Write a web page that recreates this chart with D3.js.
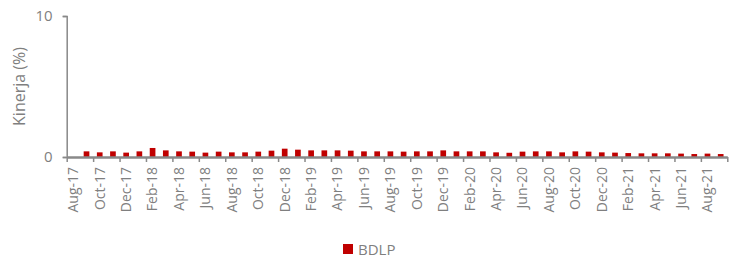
<!DOCTYPE html>
<html>
<head>
<meta charset="utf-8">
<script src="https://cdn.jsdelivr.net/npm/d3@7"></script>
<style>
  body { margin: 0; background: #fff; }
  svg { display: block; }
</style>
</head>
<body>
<div id="chart"></div>
<script>
const WIDTH = 739
const HEIGHT = 260
const LEFT = 66.7
const RIGHT = 727.3
const TOP = 16
const BOTTOM = 157
const GREY = '#898989'
const TEXT = '#7f7f7f'
const FONT = '"Open Sans", sans-serif'

// bulan
const MONTHS = [
  'Aug-17', 'Sep-17', 'Oct-17', 'Nov-17', 'Dec-17',
  'Jan-18', 'Feb-18', 'Mar-18', 'Apr-18', 'May-18', 'Jun-18', 'Jul-18', 'Aug-18', 'Sep-18', 'Oct-18', 'Nov-18', 'Dec-18',
  'Jan-19', 'Feb-19', 'Mar-19', 'Apr-19', 'May-19', 'Jun-19', 'Jul-19', 'Aug-19', 'Sep-19', 'Oct-19', 'Nov-19', 'Dec-19',
  'Jan-20', 'Feb-20', 'Mar-20', 'Apr-20', 'May-20', 'Jun-20', 'Jul-20', 'Aug-20', 'Sep-20', 'Oct-20', 'Nov-20', 'Dec-20',
  'Jan-21', 'Feb-21', 'Mar-21', 'Apr-21', 'May-21', 'Jun-21', 'Jul-21', 'Aug-21', 'Sep-21'
]
// kinerja BDLP (%)
const BDLP = [
  null, 0.40, 0.33, 0.40, 0.31,
  0.40, 0.64, 0.47, 0.40, 0.38, 0.31, 0.38, 0.33, 0.33, 0.38, 0.45, 0.59,
  0.52, 0.47, 0.47, 0.47, 0.45, 0.40, 0.40, 0.40, 0.38, 0.40, 0.40, 0.47,
  0.40, 0.40, 0.40, 0.33, 0.30, 0.38, 0.40, 0.40, 0.33, 0.40, 0.38, 0.33,
  0.31, 0.28, 0.26, 0.26, 0.26, 0.24, 0.21, 0.24, 0.21
]
const Y_TICKS = [0, 10]
const SERIES_NAME = 'BDLP'

const DATA = MONTHS.map((m, i) => ({ month: m, value: BDLP[i] }))

const svg = d3.select('#chart').append('svg').attr('width', WIDTH).attr('height', HEIGHT)

const x = d3.scaleBand()
  .domain(MONTHS)
  .range([LEFT, RIGHT])
  .paddingInner(0.57)
  .paddingOuter(0.285)

// echelle par index pour les traits de graduation (tous les 2 mois)
const xIdx = d3.scaleLinear().domain([0, MONTHS.length]).range([LEFT, RIGHT])

const y = d3.scaleLinear().domain([0, 10]).range([BOTTOM, TOP])

// batons
svg.append('g')
  .selectAll('rect')
  .data(DATA.filter(d => d.value !== null))
  .enter()
  .append('rect')
  .attr('x', d => x(d.month))
  .attr('width', x.bandwidth())
  .attr('y', d => y(d.value))
  .attr('height', d => BOTTOM - y(d.value))
  .attr('fill', '#C00000')

// axe Y
const axisY = d3.axisLeft(y).tickValues(Y_TICKS).tickSize(4).tickPadding(10)
const gy = svg.append('g')
  .attr('transform', `translate(${LEFT}, 0)`)
  .call(axisY)
gy.select('.domain').attr('stroke', GREY).attr('stroke-width', 1.5)
gy.selectAll('.tick line').attr('stroke', GREY).attr('stroke-width', 1.5)
gy.selectAll('.tick text')
  .attr('fill', TEXT)
  .attr('font-family', FONT)
  .attr('font-size', 15)

// traits de l'axe X
const axisTicks = d3.axisBottom(xIdx)
  .tickValues(d3.range(0, MONTHS.length + 1, 2))
  .tickSize(5)
  .tickSizeOuter(0)
  .tickFormat('')
const gx = svg.append('g')
  .attr('transform', `translate(0, ${BOTTOM})`)
  .call(axisTicks)
gx.select('.domain').attr('stroke', GREY).attr('stroke-width', 2.5)
gx.selectAll('.tick line').attr('stroke', GREY).attr('stroke-width', 1.5)

// etiquettes des mois
const axisLabels = d3.axisBottom(x)
  .tickValues(MONTHS.filter((m, i) => i % 2 === 0))
  .tickSize(0)
const gl = svg.append('g')
  .attr('transform', `translate(0, ${BOTTOM})`)
  .call(axisLabels)
gl.select('.domain').remove()
gl.selectAll('.tick text')
  .attr('fill', TEXT)
  .attr('font-family', FONT)
  .attr('font-size', 14)
  .attr('text-anchor', 'end')
  .attr('transform', 'rotate(-90)')
  .attr('x', -10)
  .attr('y', 0)
  .attr('dy', '0.35em')

// titre axe Y
svg.append('text')
  .attr('transform', `translate(25, ${(TOP + BOTTOM) / 2}) rotate(-90)`)
  .attr('text-anchor', 'middle')
  .attr('font-family', FONT)
  .attr('font-size', 16)
  .attr('fill', TEXT)
  .text('Kinerja (%)')

// legende
const legend = svg.append('g').attr('transform', 'translate(343, 244)')
legend.append('rect').attr('width', 10).attr('height', 10).attr('fill', '#C00000')
legend.append('text')
  .attr('x', 15)
  .attr('y', 11)
  .attr('font-family', FONT)
  .attr('font-size', 15)
  .attr('fill', TEXT)
  .text(SERIES_NAME)
</script>
</body>
</html>
